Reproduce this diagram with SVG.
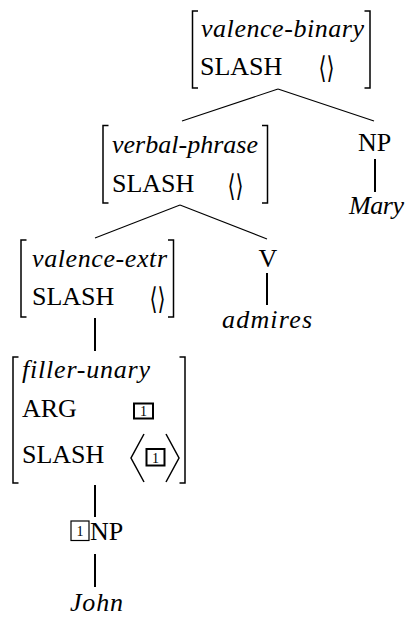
<svg xmlns="http://www.w3.org/2000/svg" width="407" height="618" viewBox="0 0 407 618">
<style>
text{font-family:"Liberation Serif","Times New Roman",serif;fill:#000}
.rm{font-size:26px}
.it{font-size:26px;font-style:italic}
.ang{font-family:"DejaVu Serif",serif;font-size:30px}
.one{font-size:14px}
.br{fill:none;stroke:#000;stroke-width:1.5}
.edge{stroke:#000;stroke-width:1.1;fill:none}
.vert{stroke:#000;stroke-width:2;fill:none}
.tag{fill:none;stroke:#000;stroke-width:2}
.tagthin{fill:none;stroke:#000;stroke-width:1.2}
</style>
<rect width="407" height="618" fill="#fff"/>
<g id="connectors">
<line class="edge" x1="278" y1="89" x2="182" y2="121"/>
<line class="edge" x1="278" y1="89" x2="374" y2="121"/>
<line class="edge" x1="180" y1="205" x2="95" y2="238"/>
<line class="edge" x1="180" y1="205" x2="267" y2="239"/>
<line class="vert" x1="375" y1="159" x2="375" y2="192"/>
<line class="vert" x1="267" y1="273" x2="267" y2="305"/>
<line class="vert" x1="95" y1="318" x2="95" y2="351"/>
<line class="vert" x1="95" y1="485" x2="95" y2="517"/>
<line class="vert" x1="95" y1="554" x2="95" y2="587"/>
</g>
<g id="valence-binary">
<path class="br" d="M198 11H192.5V88H198M364.5 11H370V88H364.5"/>
<text class="it" x="201" y="37" textLength="163" lengthAdjust="spacing">valence-binary</text>
<text class="rm" x="200" y="75">SLASH</text>
<text class="ang" x="318.5" y="78" textLength="16" lengthAdjust="spacingAndGlyphs">⟨⟩</text>
</g>
<g id="verbal-phrase">
<path class="br" d="M108.5 125.5H103V203H108.5M262 125.5H267.5V203H262"/>
<text class="it" x="112" y="153" textLength="146" lengthAdjust="spacing">verbal-phrase</text>
<text class="rm" x="112" y="192">SLASH</text>
<text class="ang" x="227.5" y="196" textLength="16" lengthAdjust="spacingAndGlyphs">⟨⟩</text>
</g>
<g id="np-mary">
<text class="rm" x="374.5" y="151" text-anchor="middle">NP</text>
</g>
<g id="mary">
<text class="it" x="349" y="214" textLength="55" lengthAdjust="spacing">Mary</text>
</g>
<g id="valence-extr">
<path class="br" d="M26.5 240H21V317H26.5M168 240H173.5V317H168"/>
<text class="it" x="32" y="267" textLength="135" lengthAdjust="spacing">valence-extr</text>
<text class="rm" x="32" y="305">SLASH</text>
<text class="ang" x="149.5" y="309" textLength="16" lengthAdjust="spacingAndGlyphs">⟨⟩</text>
</g>
<g id="v">
<text class="rm" x="268" y="267" text-anchor="middle">V</text>
</g>
<g id="admires">
<text class="it" x="222" y="328" textLength="90" lengthAdjust="spacing">admires</text>
</g>
<g id="filler-unary">
<path class="br" d="M18.5 357H13V483H18.5M179.5 357H185V483H179.5"/>
<text class="it" x="22" y="378" textLength="128" lengthAdjust="spacing">filler-unary</text>
<text class="rm" x="22" y="417">ARG</text>
<rect class="tag" x="134" y="403.5" width="19" height="15"/>
<text class="one" x="143.5" y="416" text-anchor="middle">1</text>
<text class="rm" x="22" y="463">SLASH</text>
<polyline class="br" points="144,434 131,458 144,482"/>
<polyline class="br" points="166,434 179,458 166,482"/>
<rect class="tag" x="146.5" y="449" width="18" height="16.5"/>
<text class="one" x="155.5" y="462.5" text-anchor="middle">1</text>
</g>
<g id="np-john">
<rect class="tagthin" x="71" y="521" width="18" height="19.5"/>
<text class="one" x="80" y="536" text-anchor="middle">1</text>
<text class="rm" x="90" y="539.5">NP</text>
</g>
<g id="john">
<text class="it" x="70" y="611" textLength="53" lengthAdjust="spacing">John</text>
</g>
</svg>
